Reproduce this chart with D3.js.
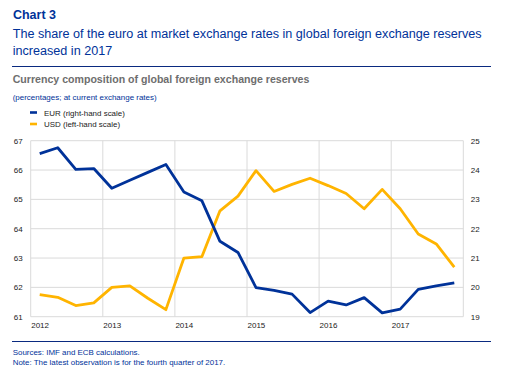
<!DOCTYPE html>
<html>
<head>
<meta charset="utf-8">
<script src="https://cdn.jsdelivr.net/npm/d3@7"></script>
<style>
  html, body { margin: 0; padding: 0; background: #fff; }
  svg { display: block; font-family: "Liberation Sans", Arial, sans-serif; }
</style>
</head>
<body>
<svg id="chart" width="518" height="378"></svg>
<script>
// ---- data ----
const quarters = [
  "2012Q1","2012Q2","2012Q3","2012Q4",
  "2013Q1","2013Q2","2013Q3","2013Q4",
  "2014Q1","2014Q2","2014Q3","2014Q4",
  "2015Q1","2015Q2","2015Q3","2015Q4",
  "2016Q1","2016Q2","2016Q3","2016Q4",
  "2017Q1","2017Q2","2017Q3","2017Q4"
];
// EUR share (right-hand scale)
const eurValues = [
  24.56, 24.76, 24.02, 24.05,
  23.38, 23.65, 23.92, 24.19,
  23.25, 22.95, 21.57, 21.19,
  19.99, 19.90, 19.77, 19.14,
  19.53, 19.40, 19.65, 19.13,
  19.26, 19.93, 20.05, 20.15
];
// USD share (left-hand scale)
const usdValues = [
  61.75, 61.66, 61.38, 61.47,
  62.00, 62.05, 61.63, 61.24,
  63.00, 63.05, 64.61, 65.11,
  65.98, 65.27, 65.51, 65.72,
  65.47, 65.20, 64.68, 65.34,
  64.68, 63.82, 63.48, 62.69
];
const leftTicks = [61, 62, 63, 64, 65, 66, 67];
const rightTicks = [19, 20, 21, 22, 23, 24, 25];
const yearTicks = [2012, 2013, 2014, 2015, 2016, 2017];
const yearEdges = [2012, 2013, 2014, 2015, 2016, 2017, 2018];

const chartLabel = "Chart 3";
const titleLines = [
  "The share of the euro at market exchange rates in global foreign exchange reserves",
  "increased in 2017"
];
const subtitle = "Currency composition of global foreign exchange reserves";
const unitsNote = "(percentages; at current exchange rates)";
const legendLabels = ["EUR (right-hand scale)", "USD (left-hand scale)"];
const footnotes = [
  "Sources: IMF and ECB calculations.",
  "Note: The latest observation is for the fourth quarter of 2017."
];

// ---- styles ----
const BLUE = "#003299";
const RULE = "#0a2a80";
const YELLOW = "#ffb400";
const GRID = "#dadada";

const svg = d3.select("#chart");

function fit(sel, target) {
  const n = sel.node();
  const w = n.getComputedTextLength();
  const fs = parseFloat(sel.attr("font-size"));
  if (w > 0) sel.attr("font-size", (fs * target / w).toFixed(2));
  return sel;
}

// header
fit(svg.append("text").attr("x", 13).attr("y", 19).attr("font-size", 12)
  .attr("font-weight", "bold").attr("fill", BLUE).text(chartLabel), 43);
const t1 = fit(svg.append("text").attr("x", 12.7).attr("y", 38.3).attr("font-size", 13)
  .attr("fill", BLUE).text(titleLines[0]), 469);
svg.append("text").attr("x", 12.7).attr("y", 55.3).attr("font-size", t1.attr("font-size"))
  .attr("fill", BLUE).text(titleLines[1]);

svg.append("line").attr("x1", 12).attr("x2", 491).attr("y1", 66.5).attr("y2", 66.5)
  .attr("stroke", RULE).attr("stroke-width", 1);

fit(svg.append("text").attr("x", 12.7).attr("y", 83).attr("font-size", 11)
  .attr("font-weight", "bold").attr("fill", "#6e6e6e").text(subtitle), 297);
fit(svg.append("text").attr("x", 12.7).attr("y", 100).attr("font-size", 8)
  .attr("fill", BLUE).text(unitsNote), 144);

// legend
const legendColors = [BLUE, YELLOW];
const lg = svg.append("g");
legendLabels.forEach((lab, i) => {
  const y = 112.5 + i * 11.5;
  lg.append("rect").attr("x", 30).attr("y", y - 1.3).attr("width", 7).attr("height", 2.6)
    .attr("fill", legendColors[i]);
  const t = lg.append("text").attr("x", 44).attr("y", y + 3.2).attr("font-size", 8)
    .attr("fill", "#222").text(lab);
  if (i === 0) fit(t, 81);
  else t.attr("font-size", lg.select("text").attr("font-size"));
});

// plot
const x0 = 30.7, x1 = 463.3, yTop = 140.7, yBot = 316.7;
const x = d3.scaleLinear().domain([2012, 2018]).range([x0, x1]);
const yL = d3.scaleLinear().domain([61, 67]).range([yBot, yTop]);
const yR = d3.scaleLinear().domain([19, 25]).range([yBot, yTop]);

const qx = q => +q.slice(0, 4) + (+q.slice(5) - 0.5) / 4;

const grid = svg.append("g");
grid.selectAll("line.h").data(leftTicks).join("line")
  .attr("x1", x0).attr("x2", x1)
  .attr("y1", d => yL(d)).attr("y2", d => yL(d))
  .attr("stroke", GRID).attr("stroke-width", 1);
grid.selectAll("line.v").data(yearEdges).join("line")
  .attr("x1", d => x(d)).attr("x2", d => x(d))
  .attr("y1", yTop).attr("y2", yBot)
  .attr("stroke", GRID).attr("stroke-width", 1);

// axes labels
const fmt = d3.format("d");
const leftAxis = d3.axisLeft(yL).tickValues(leftTicks).tickFormat(fmt).tickSize(0).tickPadding(8);
const gl = svg.append("g").attr("transform", `translate(${x0},0)`).call(leftAxis);
gl.select(".domain").remove();
gl.selectAll("text").attr("font-size", 8).attr("fill", "#222")
  .attr("font-family", "Liberation Sans, Arial, sans-serif");

const rightAxis = d3.axisRight(yR).tickValues(rightTicks).tickFormat(fmt).tickSize(0).tickPadding(7.5);
const gr = svg.append("g").attr("transform", `translate(${x1},0)`).call(rightAxis);
gr.select(".domain").remove();
gr.selectAll("text").attr("font-size", 8).attr("fill", "#222")
  .attr("font-family", "Liberation Sans, Arial, sans-serif");

const bottomAxis = d3.axisBottom(x).tickValues(yearTicks).tickFormat(fmt)
  .tickSize(0).tickPadding(6);
const gb = svg.append("g").attr("transform", `translate(0,${yBot})`).call(bottomAxis);
gb.select(".domain").remove();
gb.selectAll("text").attr("font-size", 8).attr("fill", "#222")
  .attr("text-anchor", "start").attr("dy", "0.71em")
  .attr("font-family", "Liberation Sans, Arial, sans-serif");

// lines
const usdLine = d3.line().x((d, i) => x(qx(quarters[i]))).y(d => yL(d));
const eurLine = d3.line().x((d, i) => x(qx(quarters[i]))).y(d => yR(d));

svg.append("path").datum(usdValues).attr("d", usdLine)
  .attr("fill", "none").attr("stroke", YELLOW).attr("stroke-width", 2.8)
  .attr("stroke-linejoin", "round");
svg.append("path").datum(eurValues).attr("d", eurLine)
  .attr("fill", "none").attr("stroke", BLUE).attr("stroke-width", 2.8)
  .attr("stroke-linejoin", "round");

// footer
svg.append("line").attr("x1", 12).attr("x2", 491).attr("y1", 341.5).attr("y2", 341.5)
  .attr("stroke", RULE).attr("stroke-width", 1);
const f0 = fit(svg.append("text").attr("x", 12.7).attr("y", 354.5).attr("font-size", 8)
  .attr("fill", BLUE).text(footnotes[0]), 127.3);
svg.append("text").attr("x", 12.7).attr("y", 364.8).attr("font-size", f0.attr("font-size"))
  .attr("fill", BLUE).text(footnotes[1]);
</script>
</body>
</html>
